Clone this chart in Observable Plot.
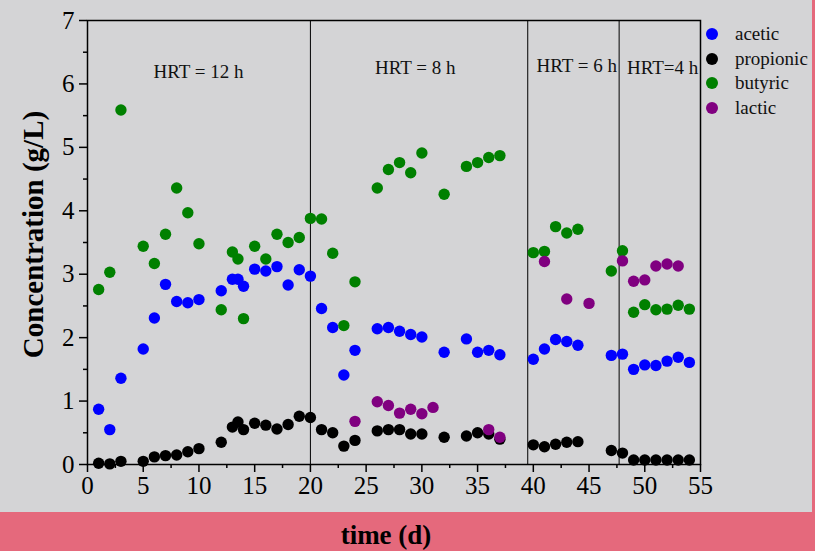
<!DOCTYPE html>
<html>
<head>
<meta charset="utf-8">
<script src="https://cdn.jsdelivr.net/npm/d3@7"></script>
<script src="https://cdn.jsdelivr.net/npm/@observablehq/plot@0.6"></script>
<style>
  html, body { margin: 0; padding: 0; background: #ffffff; }
  #wrap { position: relative; width: 812px; height: 551px; background: #d4d4d6; border-right: 3px solid #e5697c; font-family: "Liberation Serif", "Times New Roman", serif; }
  #band { position: absolute; left: 0; top: 512px; width: 812px; height: 39px; background: #e5697c; }
  #xlabel { position: absolute; left: 0; top: 512px; width: 772px; height: 39px; line-height: 39px; padding-top: 4px; text-align: center; font-weight: bold; font-size: 27px; color: #000; }
  #legend { position: absolute; left: 706px; top: 22px; }
  .row { position: absolute; left: 0; height: 24px; display: flex; align-items: center; white-space: nowrap; font-size: 19px; color: #111; }
  .sw { width: 12px; height: 12px; border-radius: 50%; margin-right: 17px; }
</style>
</head>
<body>
<div id="wrap">
  <div id="chart"></div>
  <div id="band"></div>
  <div id="xlabel"></div>
  <div id="legend"></div>
</div>
<script>
const seriesNames = ["acetic", "propionic", "butyric", "lactic"];
const seriesColors = ["#0000ff", "#000000", "#008000", "#800080"];

const vfaDays = [1,2,3,5,6,7,8,9,10,12,13,13.5,14,15,16,17,18,19,20,21,22,23,24,26,27,28,29,30,32,34,35,36,37,40,41,42,43,44,47,48,49,50,51,52,53,54];
const acetic = [0.87,0.55,1.36,1.82,2.31,2.84,2.57,2.55,2.60,2.74,2.92,2.92,2.81,3.08,3.05,3.12,2.83,3.07,2.97,2.46,2.16,1.41,1.80,2.14,2.16,2.10,2.05,2.01,1.77,1.98,1.77,1.80,1.73,1.66,1.82,1.97,1.94,1.88,1.72,1.74,1.50,1.57,1.56,1.63,1.69,1.61];
const propionic = [0.02,0.01,0.05,0.05,0.12,0.14,0.15,0.20,0.25,0.35,0.59,0.67,0.55,0.65,0.62,0.56,0.63,0.76,0.74,0.55,0.50,0.29,0.38,0.53,0.55,0.55,0.48,0.48,0.43,0.45,0.50,0.48,0.40,0.31,0.28,0.32,0.35,0.36,0.22,0.18,0.07,0.07,0.07,0.07,0.07,0.07];
const butyric = [2.76,3.03,5.59,3.44,3.17,3.63,4.36,3.97,3.48,2.44,3.35,3.24,2.30,3.44,3.24,3.63,3.50,3.58,3.88,3.87,3.33,2.19,2.88,4.36,4.65,4.76,4.60,4.91,4.26,4.70,4.76,4.84,4.87,3.34,3.36,3.75,3.65,3.71,3.05,3.37,2.40,2.52,2.44,2.45,2.51,2.45];
const lacticDays = [24,26,27,28,29,30,31,36,37,41,43,45,48,49,50,51,52,53];
const lactic = [0.68,0.99,0.93,0.81,0.87,0.80,0.90,0.55,0.43,3.20,2.61,2.54,3.21,2.89,2.91,3.13,3.16,3.13];

const hrtBoundaries = [20, 39.5, 47.7];
const hrtLabels = ["HRT = 12 h", "HRT = 8 h", "HRT = 6 h", "HRT=4 h"];
const hrtLabelX = [9.96, 29.4, 43.9, 51.6];
const hrtLabelY = [6.19, 6.26, 6.29, 6.26];

const xTicks = [0,5,10,15,20,25,30,35,40,45,50,55];
const xMinorTicks = [2.5,7.5,12.5,17.5,22.5,27.5,32.5,37.5,42.5,47.5,52.5];
const yTicks = [0,1,2,3,4,5,6,7];
const yMinorTicks = [0.5,1.5,2.5,3.5,4.5,5.5,6.5];

const xTitle = "time (d)";
const yTitle = "Concentration (g/L)";

const rows = [];
vfaDays.forEach((d, i) => rows.push({day: d, value: acetic[i], series: "acetic"}));
vfaDays.forEach((d, i) => rows.push({day: d, value: propionic[i], series: "propionic"}));
vfaDays.forEach((d, i) => rows.push({day: d, value: butyric[i], series: "butyric"}));
lacticDays.forEach((d, i) => rows.push({day: d, value: lactic[i], series: "lactic"}));

const hrtRows = hrtLabels.map((t, i) => ({text: t, x: hrtLabelX[i], y: hrtLabelY[i]}));

const font = "Liberation Serif, Times New Roman, serif";

const chart = Plot.plot({
  width: 812,
  height: 512,
  marginLeft: 87,
  marginRight: 112,
  marginTop: 20,
  marginBottom: 48,
  style: {background: "transparent", fontFamily: font, color: "#000", overflow: "visible"},
  x: {domain: [0, 55]},
  y: {domain: [0, 7]},
  color: {domain: seriesNames, range: seriesColors},
  marks: [
    Plot.ruleX(hrtBoundaries, {y1: 0, y2: 7, stroke: "#000", strokeWidth: 1}),
    Plot.axisX({ticks: xMinorTicks, tickSize: 4, tickFormat: () => "", label: null, strokeWidth: 1.5}),
    Plot.axisX({ticks: xTicks, tickSize: 8, tickPadding: 4, fontSize: 25, label: null, tickFormat: d => String(d), strokeWidth: 1.5}),
    Plot.axisY({ticks: yMinorTicks, tickSize: 4, tickFormat: () => "", label: null, strokeWidth: 1.5}),
    Plot.axisY({ticks: yTicks, tickSize: 8, tickPadding: 5, fontSize: 25, label: null, tickFormat: d => String(d), strokeWidth: 1.5}),
    Plot.frame({stroke: "#000", strokeWidth: 1.5}),
    Plot.text(hrtRows, {x: "x", y: "y", text: "text", fontSize: 19, fill: "#111", textAnchor: "middle"}),
    Plot.dot(rows, {x: "day", y: "value", fill: "series", r: 5.7, stroke: "none"}),
    Plot.text([yTitle], {frameAnchor: "left", textAnchor: "middle", rotate: -90, dx: -54, dy: -8, fontSize: 29, fontWeight: "bold", fill: "#000"})
  ]
});
document.getElementById("chart").appendChild(chart);

document.getElementById("xlabel").textContent = xTitle;

const legendCenters = [34.3, 58.7, 83, 107.7];
const legend = document.getElementById("legend");
seriesNames.forEach((name, i) => {
  const row = document.createElement("div");
  row.className = "row";
  row.style.top = (legendCenters[i] - 22 - 12) + "px";
  const sw = document.createElement("div");
  sw.className = "sw";
  sw.style.background = seriesColors[i];
  const label = document.createElement("span");
  label.textContent = name;
  row.appendChild(sw);
  row.appendChild(label);
  legend.appendChild(row);
});
</script>
</body>
</html>
